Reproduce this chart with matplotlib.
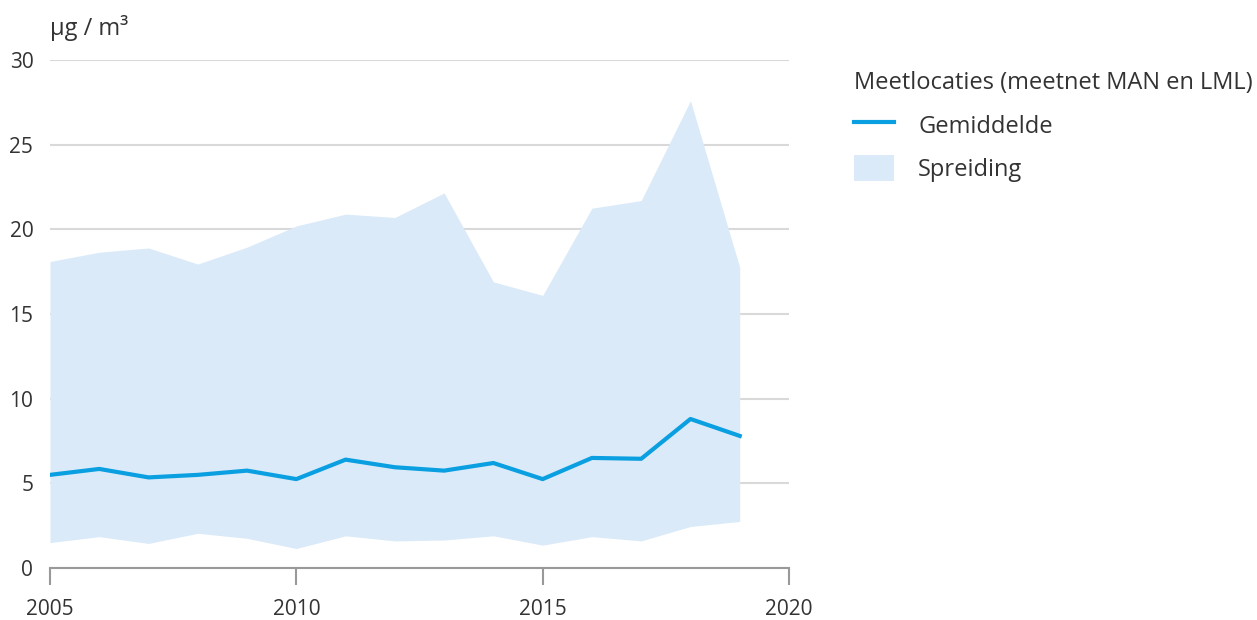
import matplotlib
matplotlib.use("Agg")
import matplotlib.pyplot as plt
from matplotlib.lines import Line2D
from matplotlib.patches import Patch

plt.rcParams['font.family'] = ['Open Sans', 'DejaVu Sans']

years = [2005, 2006, 2007, 2008, 2009, 2010, 2011, 2012, 2013, 2014, 2015, 2016, 2017, 2018, 2019]
gemiddelde = [5.5, 5.85, 5.35, 5.5, 5.75, 5.25, 6.4, 5.95, 5.75, 6.2, 5.25, 6.5, 6.45, 8.8, 7.8]
spreiding_min = [1.5, 1.85, 1.45, 2.05, 1.75, 1.15, 1.9, 1.6, 1.65, 1.9, 1.35, 1.85, 1.6, 2.45, 2.75]
spreiding_max = [18.1, 18.65, 18.9, 17.95, 18.95, 20.2, 20.9, 20.7, 22.15, 16.9, 16.1, 21.25, 21.7, 27.6, 17.75]

line_color = '#0a9fe0'
fill_color = '#dbeaf8'
text_color = '#333333'

fig = plt.figure(figsize=(12.57, 6.2), dpi=100)
ax = fig.add_axes([50 / 1257, 1 - 568 / 620, 739 / 1257, 508 / 620])

ax.fill_between(years, spreiding_min, spreiding_max, color=fill_color, linewidth=0, zorder=2)
ax.plot(years, gemiddelde, color=line_color, linewidth=3, zorder=3)

ax.set_xlim(2005, 2020)
ax.set_ylim(0, 30)
ax.set_xticks([2005, 2010, 2015, 2020])
ax.set_yticks([0, 5, 10, 15, 20, 25, 30])
ax.grid(axis='y', color='#d9d9d9', linewidth=1.5, zorder=1)
ax.set_axisbelow(True)
for s in ['left', 'right', 'top']:
    ax.spines[s].set_visible(False)
ax.spines['bottom'].set_color('#999999')
ax.spines['bottom'].set_linewidth(1.5)
ax.spines['bottom'].set_zorder(4)
ax.tick_params(axis='x', direction='out', length=12, width=1.5, color='#999999',
               labelsize=15, labelcolor=text_color, pad=10)
ax.tick_params(axis='y', length=0, labelsize=15, labelcolor=text_color, pad=12)

fig.text(50 / 1257, 1 - 28 / 620, 'µg / m³', fontsize=17, color=text_color, va='center', ha='left')

handles = [Line2D([0], [0], color=line_color, linewidth=3),
           Patch(facecolor=fill_color, edgecolor='none')]
leg = fig.legend(handles, ['Gemiddelde', 'Spreiding'], title='Meetlocaties (meetnet MAN en LML)',
                 loc='upper left', bbox_to_anchor=(833 / 1257, 1 - 50 / 620), frameon=False,
                 fontsize=17, title_fontsize=17, alignment='left', handlelength=1.7,
                 handleheight=1.3, handletextpad=1.0, labelspacing=0.7)
for t in leg.get_texts():
    t.set_color(text_color)
leg.get_title().set_color(text_color)

fig.savefig('out.png', dpi=100, facecolor='white')
